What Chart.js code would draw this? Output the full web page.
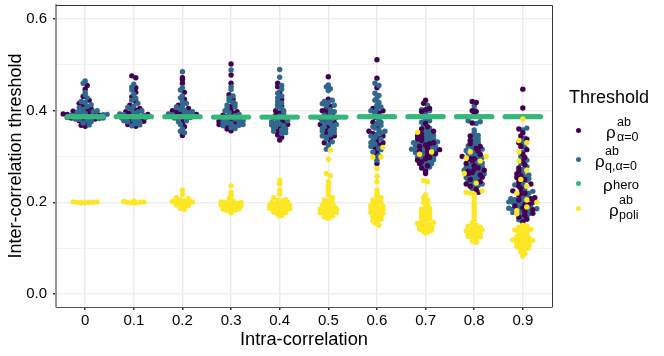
<!DOCTYPE html>
<html lang="en">
<head>
<meta charset="UTF-8">
<title>Inter-correlation threshold</title>
<script src="https://cdn.jsdelivr.net/npm/chart.js"></script>
<style>
    body {margin: 0; background: #fff; font-family: 'Liberation Sans', Arial, sans-serif; color: #000;}
    #wrap {position: relative; width: 664px; height: 356px; overflow: hidden;}
    canvas {position: absolute; left: 0; top: 0;}
    .lg {position: absolute; white-space: nowrap; line-height: 1;}
    .dot {position: absolute; width: 5px; height: 5px; border-radius: 50%;}
    .rho {font-size: 17px;}
    .s {font-size: 12.5px;}
</style>
</head>
<body>
<div id="wrap">
    <canvas id="chart" width="664" height="356"></canvas>
    <div class="lg" style="left:569px;top:88px;font-size:18px">Threshold</div>
    <span class="dot" style="left:576px;top:128px;background:#440154"></span>
    <span class="dot" style="left:576px;top:157px;background:#31688E"></span>
    <span class="dot" style="left:576px;top:181px;background:#35B779"></span>
    <span class="dot" style="left:576px;top:206px;background:#FDE725"></span>
    <div class="lg rho" style="left:606px;top:124px">ρ</div>
    <div class="lg s" style="left:617px;top:116px">ab</div>
    <div class="lg s" style="left:617px;top:131px">α=0</div>
    <div class="lg rho" style="left:595px;top:153px">ρ</div>
    <div class="lg s" style="left:605px;top:145px">ab</div>
    <div class="lg s" style="left:605px;top:160px">q,α=0</div>
    <div class="lg rho" style="left:603px;top:177px">ρ</div>
    <div class="lg s" style="left:613px;top:178px;font-size:13px">hero</div>
    <div class="lg rho" style="left:609px;top:202px">ρ</div>
    <div class="lg s" style="left:619px;top:194px">ab</div>
    <div class="lg s" style="left:619px;top:209px">poli</div>
</div>
<script>
// categories along the x axis
const categories = ['0', '0.1', '0.2', '0.3', '0.4', '0.5', '0.6', '0.7', '0.8', '0.9'];
const yLabels = ['0.0', '0.2', '0.4', '0.6'];

// thresholds, one row per intra-correlation
const alpha0 = [
    [.455,.447,.431,.423,.416,.41,.404,.402,.399,.396,.393,.392,.39,.389,.387,.384,.382,.38,.378,.372,.368,.366],
    [.476,.472,.45,.44,.43,.42,.412,.405,.401,.398,.395,.392,.389,.386,.383,.38,.377,.374,.37,.366],
    [.472,.468,.46,.44,.425,.412,.405,.4,.397,.395,.392,.389,.386,.383,.379,.372,.365,.346],
    [.502,.478,.46,.435,.425,.41,.402,.398,.394,.39,.387,.384,.38,.377,.374,.37,.365,.36,.356],
    [.46,.452,.44,.425,.41,.4,.395,.39,.385,.38,.375,.37,.365,.36,.352,.347,.342,.336],
    [.474,.425,.41,.405,.4,.396,.392,.388,.384,.38,.375,.37,.365,.36,.35,.345,.34,.335,.33],
    [.511,.471,.45,.405,.4,.395,.39,.385,.375,.365,.355,.35,.345,.34,.335,.33,.325,.32,.31,.305,.298,.285],
    [.423,.416,.405,.402,.398,.372,.365,.36,.355,.35,.345,.342,.338,.335,.33,.328,.325,.322,.318,.315,.312,.31,.306,.302,.298,.295,.292,.288,.285,.28,.275,.268,.263],
    [.42,.418,.4,.398,.392,.373,.345,.335,.328,.322,.318,.312,.305,.3,.295,.295,.29,.285,.28,.275,.272,.27,.268,.265,.262,.26,.255,.25,.245,.24,.235,.228,.222],
    [.447,.406,.36,.352,.345,.338,.33,.322,.315,.305,.298,.29,.282,.275,.268,.262,.258,.254,.25,.245,.24,.235,.23,.225,.22,.22,.215,.21,.208,.205,.2,.196,.195,.192,.188,.184,.18,.176,.172,.168,.163,.157]
];
const qAlpha0 = [
    [.465,.46,.44,.435,.428,.42,.418,.413,.409,.406,.403,.4,.398,.396,.395,.394,.392,.391,.39,.389,.388,.387,.386,.385,.384,.383,.382,.381,.38,.379,.376,.373,.369],
    [.458,.452,.445,.436,.427,.423,.416,.41,.407,.403,.4,.397,.394,.393,.391,.39,.388,.387,.385,.384,.382,.381,.379,.378,.376,.375,.372,.369,.367],
    [.485,.45,.445,.432,.428,.42,.416,.41,.408,.403,.401,.398,.396,.394,.393,.391,.39,.388,.387,.385,.384,.381,.378,.376,.37,.36,.355,.352],
    [.489,.452,.446,.432,.428,.422,.418,.415,.412,.408,.405,.4,.396,.392,.389,.386,.383,.382,.38,.378,.376,.375,.373,.372,.37,.368,.367,.365,.363,.361],
    [.49,.473,.455,.447,.438,.432,.428,.42,.417,.413,.408,.405,.4,.393,.388,.384,.381,.378,.376,.373,.371,.369,.367,.365,.362,.36,.358,.355,.352,.35],
    [.456,.452,.448,.444,.423,.42,.418,.415,.412,.41,.402,.398,.394,.39,.385,.382,.379,.377,.374,.372,.37,.367,.365,.362,.36,.357,.355,.352,.348,.345,.342,.338,.332,.325,.316],
    [.46,.455,.438,.433,.428,.423,.418,.412,.408,.404,.4,.396,.388,.38,.375,.372,.368,.365,.362,.358,.355,.352,.348,.345,.342,.338,.335,.33,.327,.322,.318,.315,.31,.302,.292],
    [.412,.402,.4,.396,.38,.378,.375,.368,.362,.357,.353,.348,.346,.344,.34,.338,.336,.334,.332,.33,.328,.326,.324,.322,.32,.318,.316,.314,.312,.31,.308,.305,.303,.3,.298,.296,.293,.29,.287,.284,.28,.277,.272],
    [.41,.402,.378,.376,.372,.358,.352,.346,.342,.338,.334,.33,.326,.323,.32,.316,.313,.31,.307,.304,.302,.298,.296,.292,.288,.286,.283,.28,.278,.276,.273,.27,.267,.264,.262,.258,.256,.254,.252,.249,.246,.243,.24,.237,.233,.23],
    [.362,.358,.34,.335,.328,.32,.31,.3,.292,.285,.278,.272,.265,.26,.256,.252,.248,.243,.238,.233,.228,.224,.22,.216,.212,.208,.206,.204,.201,.2,.198,.195,.192,.19,.187,.186,.185,.182,.18,.178,.175,.172,.17,.166,.162]
];
const hero = [
    [.387,.387,.387,.387,.387,.387,.387,.387,.387,.387,.387,.387,.387,.387,.387],
    [.387,.387,.387,.387,.387,.387,.387,.387,.387,.387,.387,.387,.387,.387,.387],
    [.387,.387,.387,.387,.387,.387,.387,.387,.387,.387,.387,.387,.387,.387,.387],
    [.386,.386,.386,.386,.386,.386,.386,.386,.386,.386,.386,.386,.386,.386,.386],
    [.386,.386,.386,.386,.386,.386,.386,.386,.386,.386,.386,.386,.386,.386,.386],
    [.386,.386,.386,.386,.386,.386,.386,.386,.386,.386,.386,.386,.386,.386,.386],
    [.387,.387,.387,.387,.387,.387,.387,.387,.387,.387,.387,.387,.387,.387,.387],
    [.387,.387,.387,.387,.387,.387,.387,.387,.387,.387,.387,.387,.387,.387,.387],
    [.387,.387,.387,.387,.387,.387,.387,.387,.387,.387,.387,.387,.387,.387,.387],
    [.387,.387,.387,.387,.387,.387,.387,.387,.387,.387,.387,.387,.387,.387,.387]
];
const poli = [
    [.2,.201,.199,.2,.201,.2,.199],
    [.2,.201,.199,.203,.2,.202,.199],
    [.227,.217,.21,.208,.206,.203,.202,.201,.2,.199,.198,.195,.194,.193,.192,.19,.187,.185],
    [.236,.222,.214,.208,.203,.201,.2,.199,.198,.197,.195,.194,.193,.192,.19,.189,.188,.186,.185,.183,.182,.18,.177],
    [.248,.24,.227,.218,.21,.206,.204,.203,.201,.2,.198,.197,.195,.194,.193,.191,.19,.189,.188,.187,.186,.184,.183,.182,.18,.179,.177,.175,.172,.17],
    [.314,.294,.263,.258,.245,.238,.231,.225,.216,.21,.205,.203,.2,.197,.195,.193,.191,.19,.188,.186,.185,.183,.182,.18,.178,.177,.175,.174,.172,.17,.168,.165],
    [.32,.299,.299,.274,.257,.245,.227,.22,.215,.21,.206,.203,.2,.198,.195,.193,.191,.19,.188,.186,.184,.182,.18,.178,.176,.174,.172,.17,.168,.166,.163,.16,.158,.155,.15],
    [.353,.31,.305,.248,.245,.216,.21,.205,.2,.196,.19,.187,.185,.183,.179,.176,.174,.171,.169,.167,.164,.161,.159,.156,.154,.152,.15,.149,.147,.146,.145,.143,.141,.139,.137,.135,.133],
    [.31,.3,.296,.29,.263,.242,.225,.222,.22,.218,.212,.205,.196,.19,.182,.175,.17,.162,.155,.15,.148,.146,.144,.142,.14,.138,.136,.135,.134,.132,.13,.129,.128,.126,.125,.123,.121,.116,.113],
    [.382,.335,.33,.31,.29,.27,.25,.235,.22,.205,.2,.19,.182,.175,.15,.148,.146,.144,.141,.14,.138,.136,.134,.132,.13,.127,.125,.123,.121,.12,.118,.117,.115,.113,.112,.111,.109,.107,.105,.104,.103,.101,.099,.097,.092,.088,.083]
];

const xMin = -0.6, xMax = 9.6, yMin = -0.0284, yMax = 0.6306;
const pxPerY = 302 / (yMax - yMin);
const pxPerX = 496 / (xMax - xMin);
const rowHeight = 3.5;

// beeswarm by rows: values in the same row spread out symmetrically from the centre (px)
function swarm(values, gap) {
    const rows = {};
    values.forEach((v, i) => {
        const r = Math.round(v * pxPerY / rowHeight);
        (rows[r] = rows[r] || []).push(i);
    });
    const offsets = new Array(values.length);
    for (const r in rows) {
        const row = rows[r].slice().sort((a, b) => values[a] - values[b]);
        const even = row.length % 2 === 0;
        row.forEach((idx, k) => {
            const side = k % 2 === 0 ? 1 : -1;
            offsets[idx] = side * (even ? 0.5 + Math.floor(k / 2) : Math.ceil(k / 2)) * gap;
        });
    }
    return offsets;
}

// the three threshold families share one swarm per category, hero gets a tighter one
const pts = {alpha0: [], alpha0Late: [], qAlpha0: [], hero: [], poli: []};
categories.forEach((c, i) => {
    const all = alpha0[i].concat(qAlpha0[i], poli[i]);
    const off = swarm(all, 4);
    const n1 = alpha0[i].length, n2 = n1 + qAlpha0[i].length;
    all.forEach((v, j) => {
        const p = {x: i + off[j] / pxPerX, y: v};
        if (j < n1) (i >= 7 ? pts.alpha0Late : pts.alpha0).push(p);
        else if (j < n2) pts.qAlpha0.push(p);
        else pts.poli.push(p);
    });
    const heroOff = swarm(hero[i], 2.5);
    hero[i].forEach((v, j) => pts.hero.push({x: i + heroOff[j] / pxPerX, y: v}));
});

function dots(data, color, order) {
    return {data: data, backgroundColor: color, borderWidth: 0, pointRadius: 2.7, pointHoverRadius: 2.7, order: order};
}

// top and right edges of the panel
const panelBorder = {
    id: 'panelBorder',
    afterDraw(chart) {
        const a = chart.chartArea, ctx = chart.ctx;
        ctx.save();
        ctx.strokeStyle = '#333333';
        ctx.lineWidth = 1;
        ctx.beginPath();
        ctx.moveTo(a.left, a.top + 0.5);
        ctx.lineTo(a.right + 0.5, a.top + 0.5);
        ctx.lineTo(a.right + 0.5, a.bottom);
        ctx.stroke();
        ctx.restore();
    }
};

new Chart(document.getElementById('chart').getContext('2d'), {
    type: 'scatter',
    data: {
        datasets: [
            dots(pts.alpha0, '#440154', 5),
            dots(pts.qAlpha0, '#31688E', 4),
            dots(pts.alpha0Late, '#440154', 3),
            dots(pts.hero, '#35B779', 2),
            dots(pts.poli, '#FDE725', 1)
        ]
    },
    plugins: [panelBorder],
    options: {
        responsive: false,
        animation: false,
        layout: {padding: {top: 5, right: 112, left: 5, bottom: 5}},
        plugins: {legend: {display: false}, tooltip: {enabled: false}},
        scales: {
            x: {
                type: 'linear',
                min: xMin,
                max: xMax,
                afterFit: s => { s.height = 44; s.paddingLeft = 0; s.paddingRight = 0; },
                afterBuildTicks: s => { s.ticks = categories.map((c, i) => ({value: i})); },
                ticks: {
                    color: '#000',
                    font: {family: 'Liberation Sans', size: 15},
                    maxRotation: 0,
                    padding: 2,
                    callback: v => categories[v]
                },
                grid: {color: '#ebebeb', lineWidth: 1.5, tickColor: '#333333', tickLength: 3},
                border: {color: '#555555', width: 1},
                title: {display: true, text: 'Intra-correlation', color: '#000', font: {family: 'Liberation Sans', size: 18.3}, padding: {top: 0, bottom: 0}}
            },
            y: {
                min: yMin,
                max: yMax,
                afterFit: s => { s.width = 51; s.paddingTop = 0; s.paddingBottom = 0; },
                ticks: {
                    stepSize: 0.1,
                    includeBounds: false,
                    color: '#000',
                    font: {family: 'Liberation Sans', size: 15},
                    padding: 6,
                    autoSkip: false,
                    callback: v => {
                        const k = Math.round(v * 10);
                        return k % 2 === 0 ? yLabels[k / 2] : '';
                    }
                },
                grid: {
                    color: '#efefef',
                    lineWidth: c => Math.round(c.tick.value * 10) % 2 === 0 ? 1.5 : 0.8,
                    tickColor: c => Math.round(c.tick.value * 10) % 2 === 0 ? '#333333' : 'rgba(0,0,0,0)',
                    tickLength: 3
                },
                border: {color: '#999999', width: 2},
                title: {display: true, text: 'Inter-correlation threshold', color: '#000', font: {family: 'Liberation Sans', size: 18}, padding: {top: 0, bottom: 0}}
            }
        }
    }
});
</script>
</body>
</html>
